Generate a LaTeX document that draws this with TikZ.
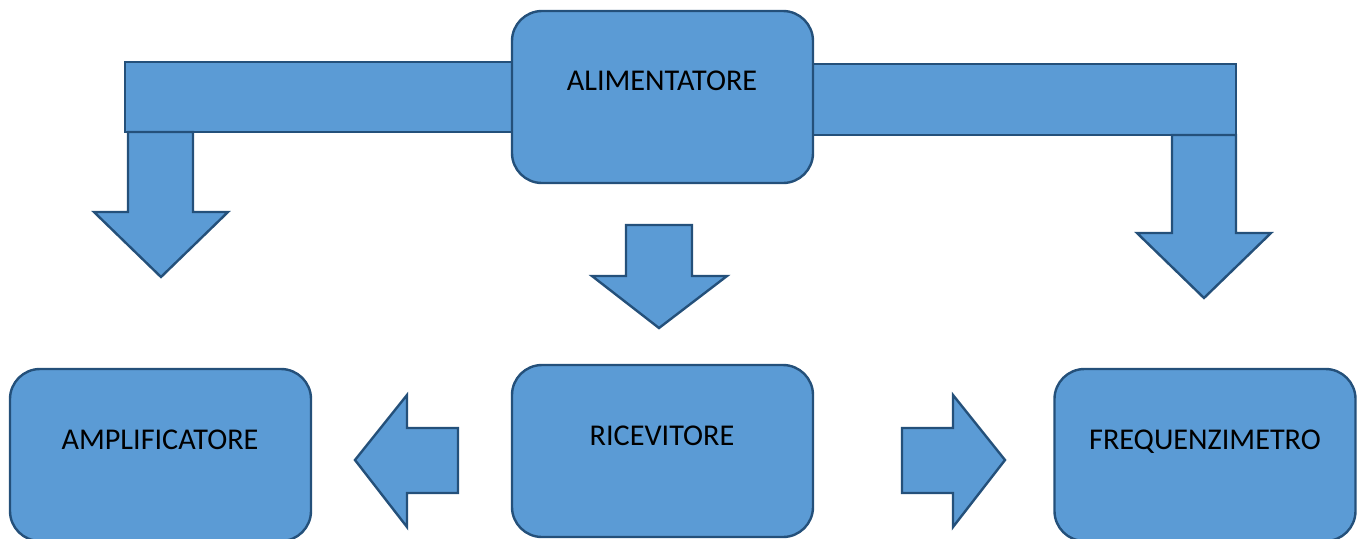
\documentclass[tikz,border=0pt]{standalone}
\usepackage{fontspec}
\setmainfont{Carlito}
\usetikzlibrary{positioning}

\definecolor{boxfill}{HTML}{5B9BD5}
\definecolor{boxline}{HTML}{24507A}

\tikzset{
  blockbox/.style={rectangle, rounded corners=15pt, draw=boxline, fill=boxfill,
    line width=1.2pt, minimum width=150.5pt, minimum height=86pt, inner sep=0pt},
  blockarrow/.style={draw=boxline, fill=boxfill, line width=1.2pt, line join=miter},
  boxtext/.style={anchor=base, inner sep=0pt, font=\fontsize{15.1}{18}\selectfont}
}

\begin{document}
\begin{tikzpicture}[x=0.5pt, y=-0.5pt]
  \useasboundingbox (0,0) rectangle (1362,538);

  % supply bars behind the top box
  \draw[blockarrow] (125,62) rectangle (540,132);
  \draw[blockarrow] (790,64) rectangle (1236,135);
  \draw[blockarrow] (128,132) -- (193,132) -- (193,212) -- (228,212) -- (161,277)
    -- (94,212) -- (128,212) -- cycle;
  \draw[blockarrow] (1172,135) -- (1236,135) -- (1236,233) -- (1271,233) -- (1204,298)
    -- (1137,233) -- (1172,233) -- cycle;

  % blocks
  \node[blockbox] (alim) at (662.5,97) {};
  \node[blockbox] (ampl) at (160.5,455) {};
  \node[blockbox] (ricev) at (662.5,451) {};
  \node[blockbox] (freq) at (1205,455) {};

  \node[boxtext] (alimtext) at (662,90.5) {ALIMENTATORE};
  \node[boxtext] (ampltext) at (160,449) {AMPLIFICATORE};
  \node[boxtext] (ricevtext) at (662,445) {RICEVITORE};
  \node[boxtext] (freqtext) at (1205,449) {FREQUENZIMETRO};

  % block arrows
  \draw[blockarrow] (626,225) -- (692,225) -- (692,276) -- (727,276) -- (659,328)
    -- (592,276) -- (626,276) -- cycle;
  \draw[blockarrow] (458,428) -- (458,493) -- (407,493) -- (407,527) -- (355,460)
    -- (407,395) -- (407,428) -- cycle;
  \draw[blockarrow] (902,428) -- (953,428) -- (953,395) -- (1005,460) -- (953,527)
    -- (953,493) -- (902,493) -- cycle;
\end{tikzpicture}
\end{document}
